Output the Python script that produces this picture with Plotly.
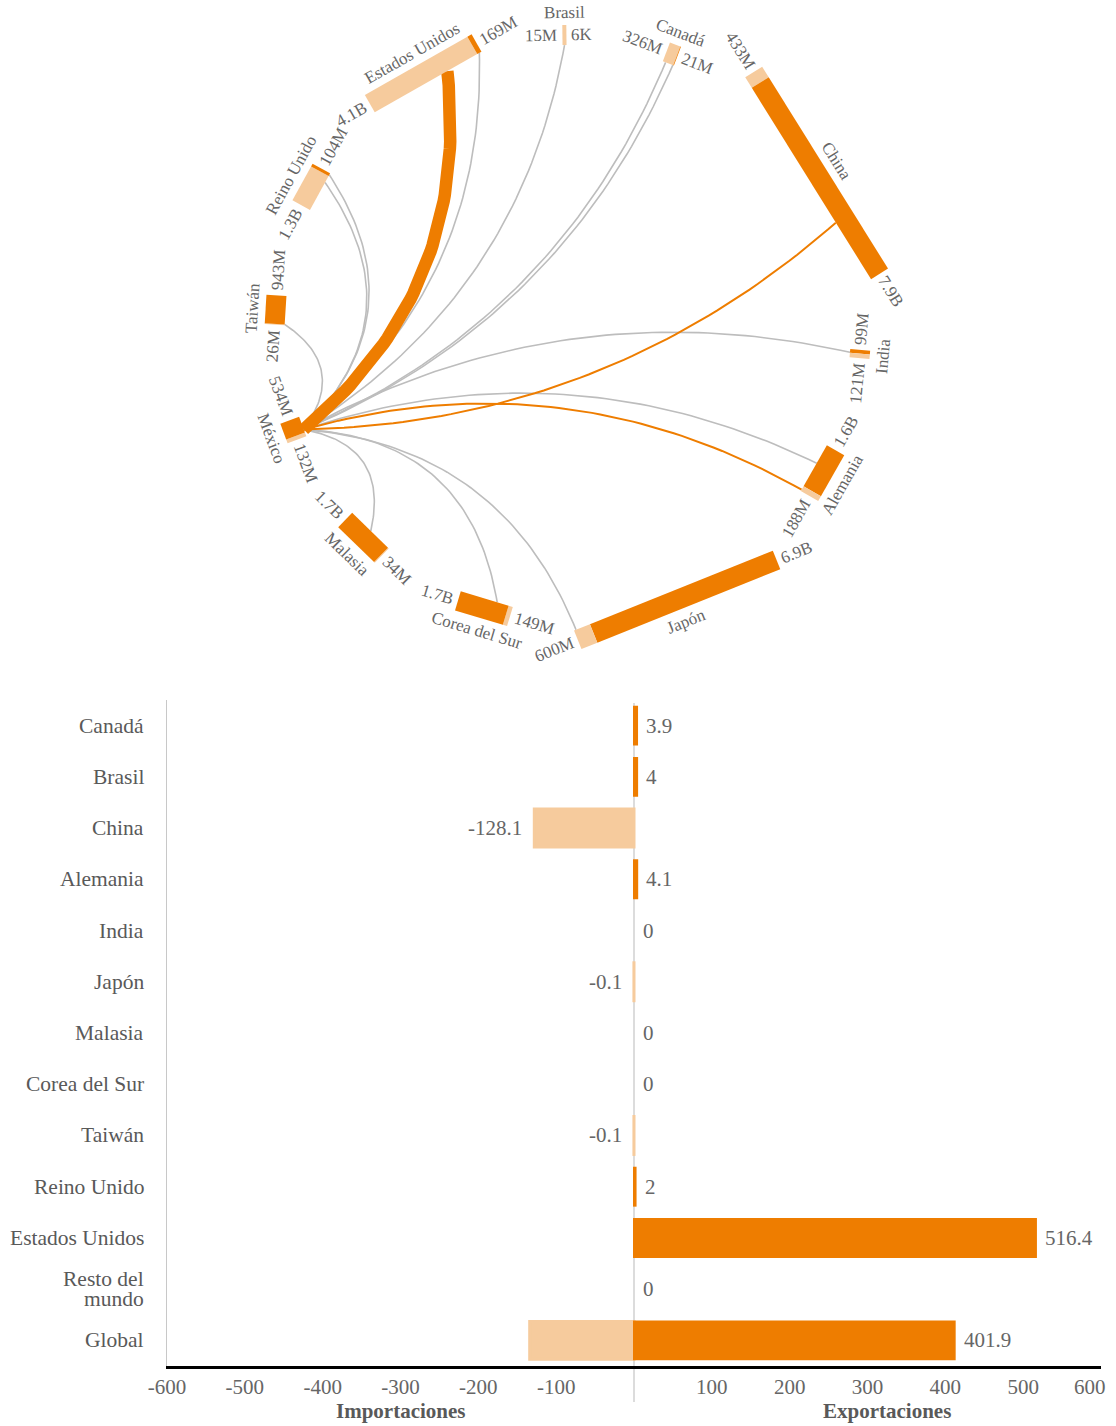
import math
import plotly.graph_objects as go

# ---------------- data: chord diagram (millions of USD) ----------------
nodes = ["Brasil", "Canadá", "China", "India", "Alemania", "Japón",
         "Corea del Sur", "Malasia", "México", "Taiwán", "Reino Unido", "Estados Unidos"]
light_vals = [15, 326, 433, 121, 188, 600, 149, 34, 132, 26, 1300, 4100]
dark_vals = [0.006, 21, 7900, 99, 1600, 6900, 1700, 1700, 534, 943, 104, 169]

# flows that leave México
flow_to = ["Taiwán", "Reino Unido", "Reino Unido", "Estados Unidos", "Brasil",
           "Canadá", "Canadá", "India", "Alemania", "Japón", "Corea del Sur",
           "Malasia", "China", "Alemania", "Estados Unidos"]
flow_kind = ["gris"] * 12 + ["naranja", "naranja", "principal"]

# ---------------- data: bar chart ----------------
categories = ["Canadá", "Brasil", "China", "Alemania", "India", "Japón", "Malasia",
              "Corea del Sur", "Taiwán", "Reino Unido", "Estados Unidos",
              "Resto del<br>mundo", "Global"]
exports = [3.9, 4, 0, 4.1, 0, 0, 0, 0, 0, 2, 516.4, 0, 412]
imports = [0, 0, -128.1, 0, 0, -0.1, 0, 0, -0.1, 0, 0, 0, -134]
net_labels = [3.9, 4, -128.1, 4.1, 0, -0.1, 0, 0, -0.1, 2, 516.4, 0, 401.9]
tick_vals = [-600, -500, -400, -300, -200, -100, 100, 200, 300, 400, 500, 600]

# ---------------- style / layout ----------------
DARK = "#EE7D00"
LIGHT = "#F6CB9D"
GRAY = "#BDBDBD"
TXT = "#666666"
FONT = "Liberation Serif"
W, H = 1116, 1426

CX, CY, R = 568, 328, 293          # chord circle (pixel space)
THICK = 20                          # node bar thickness
PX_PER_M = 0.0283                   # bar length per million
DEG_PER_M = 0.0038                  # angular share per million
ROT0 = -0.7                         # angle of first node
light_at_ccw = [True, True, True, False, False, False, True, True, True, True, True, True]
mex_attach = 0.35
flow_attach = [0.03, 0.96, 0.75, 0.98, 0.5, 0.25, 0.9, 0.4, 0.39, 0.99, 0.3, 0.49,
               0.72, 0.97, 0.68]
flow_style = {"gris": (GRAY, 1.6), "naranja": (DARK, 2.0), "principal": (DARK, 12.5)}

fig = go.Figure()

# ---------- chord geometry ----------
totals = [l + d for l, d in zip(light_vals, dark_vals)]
pad = (360 - DEG_PER_M * sum(totals)) / len(nodes)
angles = []
a = ROT0
for i, tv in enumerate(totals):
    if i > 0:
        a += DEG_PER_M * totals[i - 1] / 2 + pad + DEG_PER_M * tv / 2
    angles.append(a)
lengths = [max(4.0, 2 + PX_PER_M * tv) for tv in totals]


def frame(i):
    ar = math.radians(angles[i])
    c = (CX + R * math.sin(ar), CY - R * math.cos(ar))
    t = (math.cos(ar), math.sin(ar))
    n = (math.sin(ar), -math.cos(ar))
    return c, t, n


def pos(i, s, off):
    c, t, n = frame(i)
    return (c[0] + s * t[0] + off * n[0], c[1] + s * t[1] + off * n[1])


def text_angle(ang):
    ang = ang % 360
    if ang <= 90:
        return ang
    if ang >= 270:
        return ang - 360
    return ang - 180


CHW = {".": 0.25, "M": 0.889, "B": 0.667, "K": 0.722}


def text_w(s, size):
    return sum(CHW.get(ch, 0.5) for ch in s) * size


def fmt(v):
    if v >= 1000:
        return f"{v / 1000:.1f}B"
    if v >= 1:
        return f"{v:.0f}M"
    return f"{v * 1000:.0f}K"


# ---------- flows ----------
imex = nodes.index("México")
p0 = pos(imex, -lengths[imex] / 2 + mex_attach * lengths[imex], -THICK / 2)
order = sorted(range(len(flow_to)), key=lambda k: 0 if flow_kind[k] == "gris" else 1)
for k in order:
    j = nodes.index(flow_to[k])
    p3 = pos(j, -lengths[j] / 2 + flow_attach[k] * lengths[j], -THICK / 2)
    dx, dy = p3[0] - p0[0], p3[1] - p0[1]
    c = math.hypot(dx, dy)
    nr = (-dy / c, dx / c)
    cw = ((angles[j] - angles[imex]) % 360) <= 185
    if not cw:
        nr = (-nr[0], -nr[1])
    sag = min(0.26 * c, 52)
    mx, my = (p0[0] + p3[0]) / 2, (p0[1] + p3[1]) / 2
    q = (mx + 2 * sag * nr[0], my + 2 * sag * nr[1])
    xs, ys = [], []
    for m in range(61):
        u = m / 60
        xs.append((1 - u) ** 2 * p0[0] + 2 * u * (1 - u) * q[0] + u ** 2 * p3[0])
        ys.append((1 - u) ** 2 * p0[1] + 2 * u * (1 - u) * q[1] + u ** 2 * p3[1])
    col, lw = flow_style[flow_kind[k]]
    fig.add_trace(go.Scatter(x=xs, y=ys, mode="lines", line=dict(color=col, width=lw),
                             xaxis="x2", yaxis="y2", hoverinfo="skip", showlegend=False))

# ---------- node bars ----------
annotations = []
LBL = 17
for i, name in enumerate(nodes):
    L = lengths[i]
    tot = totals[i]
    if light_at_ccw[i]:
        parts = [(LIGHT, light_vals[i]), (DARK, dark_vals[i])]
    else:
        parts = [(DARK, dark_vals[i]), (LIGHT, light_vals[i])]
    s0 = -L / 2
    for col, v in parts:
        s1 = s0 + L * v / tot
        corners = [pos(i, s0, -THICK / 2), pos(i, s1, -THICK / 2),
                   pos(i, s1, THICK / 2), pos(i, s0, THICK / 2), pos(i, s0, -THICK / 2)]
        fig.add_trace(go.Scatter(x=[p[0] for p in corners], y=[p[1] for p in corners],
                                 mode="lines", fill="toself", fillcolor=col,
                                 line=dict(width=0, color=col), xaxis="x2", yaxis="y2",
                                 hoverinfo="skip", showlegend=False))
        s0 = s1
    ta = text_angle(angles[i])
    # value labels at each end
    for sign, (col, v) in ((-1, parts[0]), (1, parts[1])):
        txt = fmt(v)
        d = L / 2 + 5 + text_w(txt, LBL) / 2
        p = pos(i, sign * d, 0)
        annotations.append(dict(x=p[0], y=p[1], xref="x2", yref="y2", text=txt,
                                showarrow=False, textangle=ta, xanchor="center",
                                yanchor="middle", font=dict(size=LBL, color=TXT, family=FONT)))
    p = pos(i, 0, 23)
    annotations.append(dict(x=p[0], y=p[1], xref="x2", yref="y2", text=name,
                            showarrow=False, textangle=ta, xanchor="center",
                            yanchor="middle", font=dict(size=LBL, color=TXT, family=FONT)))

# ---------- bar chart ----------
fig.add_trace(go.Bar(y=categories, x=[v if v else None for v in imports], orientation="h",
                     marker=dict(color=LIGHT, line=dict(color=LIGHT, width=3)),
                     hoverinfo="skip", showlegend=False))
fig.add_trace(go.Bar(y=categories, x=[v if v else None for v in exports], orientation="h",
                     marker=dict(color=DARK, line=dict(color=DARK, width=2)),
                     hoverinfo="skip", showlegend=False))

for cat, lab, ex, im in zip(categories, net_labels, exports, imports):
    if lab < 0:
        annotations.append(dict(x=im, y=cat, xref="x", yref="y", text=f"{lab:g}",
                                showarrow=False, xanchor="right", xshift=-10,
                                font=dict(size=21, color=TXT, family=FONT)))
    else:
        annotations.append(dict(x=ex, y=cat, xref="x", yref="y", text=f"{lab:g}",
                                showarrow=False, xanchor="left", xshift=7,
                                font=dict(size=21, color=TXT, family=FONT)))
    # category label (tight line spacing for two-line names)
    lines = cat.split("<br>")
    for li, line in enumerate(lines):
        shift = ((len(lines) - 1) / 2 - li) * 20
        annotations.append(dict(x=146 / W, y=cat, xref="paper", yref="y", text=line,
                                showarrow=False, xanchor="right", yanchor="middle",
                                yshift=shift,
                                font=dict(size=21.5, color="#595959", family=FONT)))

TICK_Y = (H - 1387) / H
annotations.append(dict(x=-300, y=(H - 1411) / H, xref="x", yref="paper",
                        text="<b>Importaciones</b>", showarrow=False, xanchor="center",
                        yanchor="middle", font=dict(size=21, color="#595959", family=FONT)))
annotations.append(dict(x=887 / W, y=(H - 1411) / H, xref="paper", yref="paper",
                        text="<b>Exportaciones</b>", showarrow=False, xanchor="center",
                        yanchor="middle", font=dict(size=21, color="#595959", family=FONT)))
# last tick label, nudged left so it stays inside the page
annotations.append(dict(x=tick_vals[-1], y=TICK_Y, xref="x", yref="paper",
                        text=str(tick_vals[-1]), showarrow=False, xanchor="right",
                        xshift=7, yanchor="middle",
                        font=dict(size=21, color=TXT, family=FONT)))

tick_text = [str(v) for v in tick_vals]
tick_text[-1] = ""

plot_top, plot_bot = 700, 1366
fig.update_layout(
    template="none",
    width=W, height=H, margin=dict(l=0, r=0, t=0, b=0, autoexpand=False),
    paper_bgcolor="white", plot_bgcolor="rgba(0,0,0,0)",
    barmode="relative", bargap=0.26, showlegend=False,
    font=dict(family=FONT, color=TXT),
    xaxis=dict(domain=[167 / W, 1101 / W], range=[-600, 600], anchor="y",
               tickvals=tick_vals, ticktext=tick_text, automargin=False,
               tickfont=dict(size=21, color=TXT, family=FONT),
               showgrid=False, zeroline=False, showline=True, linecolor="black",
               linewidth=3, ticks="", fixedrange=True),
    yaxis=dict(domain=[(H - plot_bot) / H, (H - plot_top) / H], anchor="x",
               categoryorder="array", categoryarray=categories, autorange="reversed",
               showticklabels=False, automargin=False,
               showgrid=False, zeroline=False, showline=True, linecolor="#C8C8C8",
               linewidth=1, ticks="", fixedrange=True),
    xaxis2=dict(domain=[0, 1], range=[0, W], anchor="y2", visible=False,
                fixedrange=True, automargin=False),
    yaxis2=dict(domain=[0, 1], range=[H, 0], anchor="x2", visible=False,
                fixedrange=True, automargin=False),
    annotations=annotations,
    shapes=[dict(type="line", xref="x", yref="paper", x0=0, x1=0,
                 y0=(H - 1402) / H, y1=(H - 703) / H,
                 line=dict(color="#D0D0D0", width=1.5), layer="below")],
)

fig.write_html(
    "out.html",
    config={"displayModeBar": False, "staticPlot": True},
    post_script="document.documentElement.style.margin='0';"
                "document.body.style.margin='0';document.body.style.padding='0';"
                "document.body.style.overflow='hidden';",
)
